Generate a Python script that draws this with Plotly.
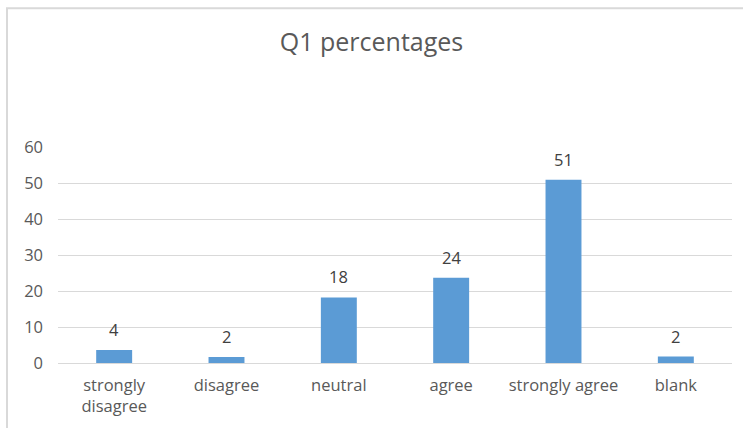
import plotly.graph_objects as go

categories = ["strongly<br>disagree", "disagree", "neutral", "agree", "strongly agree", "blank"]
values = [3.6, 1.7, 18.2, 23.7, 50.9, 1.8]
labels = ["4", "2", "18", "24", "51", "2"]
y_ticks = [0, 10, 20, 30, 40, 50, 60]

W, H = 743, 428
ml, mr, mt, mb = 58, 11, 147, 63
pw, ph = W - ml - mr, H - mt - mb
FONT = "Open Sans, Liberation Sans, sans-serif"
FS = 16.5

fig = go.Figure(go.Bar(
    x=categories, y=values,
    marker=dict(color="#5B9BD5", line=dict(width=0)),
    hoverinfo="skip",
))

for c, v, t in zip(categories, values, labels):
    fig.add_annotation(x=c, y=v, text=t, showarrow=False, yanchor="bottom", yshift=7,
                       font=dict(family=FONT, size=FS, color="#404040"))

def px(x):
    return (x - ml) / pw

def py(y):
    return (H - mb - y) / ph

fig.add_shape(type="rect", xref="paper", yref="paper",
              x0=px(7), x1=px(760), y0=py(440), y1=py(7),
              line=dict(color="#D9D9D9", width=2), layer="below")

fig.update_layout(
    width=W, height=H,
    margin=dict(l=ml, r=mr, t=mt, b=mb),
    paper_bgcolor="white", plot_bgcolor="white",
    font=dict(family=FONT, color="#595959", size=FS),
    title=dict(text="Q1 percentages", x=0.5, xanchor="center", y=1 - 42 / H, yanchor="middle",
               font=dict(family=FONT, size=25, color="#595959")),
    bargap=0.68,
    showlegend=False,
    yaxis=dict(range=[0, 60], tickvals=y_ticks, showgrid=True, gridcolor="#D9D9D9", gridwidth=1,
               zeroline=True, zerolinecolor="#D9D9D9", zerolinewidth=1, showline=False,
               ticks="", ticklabelstandoff=14, tickfont=dict(family=FONT, size=FS, color="#595959")),
    xaxis=dict(showgrid=False, showline=False, ticks="", tickfont=dict(family=FONT, size=FS, color="#595959"),
               ticklabelstandoff=10),
)

fig.write_html("out.html")
